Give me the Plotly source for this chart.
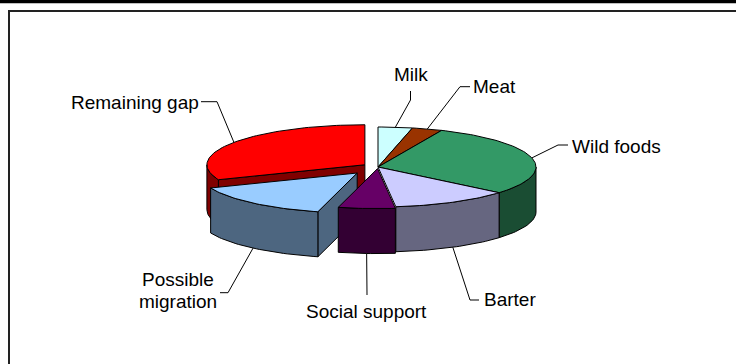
import numpy as np
import plotly.graph_objects as go

# ---------------- data ----------------
categories = ["Milk", "Meat", "Wild foods", "Barter", "Social support",
              "Possible migration", "Remaining gap"]
values = [3.5, 3.1, 29.5, 12.1, 5.8, 14.9, 31.1]
explode = [0.0, 0.0, 0.0, 0.0, 0.04, 0.2, 0.1]
top_colors = ["#CCFFFF", "#993300", "#339966", "#CCCCFF", "#660066",
              "#99CCFF", "#FF0000"]
side_colors = ["#668080", "#4D1A00", "#1A4D33", "#666680", "#330033",
               "#4D6680", "#800000"]

# ---------------- layout / geometry (pixel space) ----------------
W, H = 736, 364
CX, CY = 378, 167       # centre of the pie top face
RX, RY = 158, 40        # ellipse radii of the projected pie
DEPTH = 45              # pie thickness
FONT = dict(family="Liberation Sans, Arial, sans-serif", size=19, color="black")

# label placement: text position, anchor, elbow points (layout, not data)
label_layout = {
    "Milk": dict(tx=410.5, ty=74, xa="center", elbow=[(410.5, 100), (410.5, 91)]),
    "Meat": dict(tx=471, ty=86, xa="left", elbow=[(460, 86.7), (470, 86.7)]),
    "Wild foods": dict(tx=570, ty=146, xa="left", elbow=[(558, 145), (568, 145)]),
    "Barter": dict(tx=482, ty=299, xa="left", elbow=[(470, 300), (479, 300)]),
    "Social support": dict(tx=366.5, ty=311, xa="center", elbow=[(367, 295)]),
    "Possible migration": dict(tx=177.5, ty=None, xa="center",
                               elbow=[(228, 292.7), (220, 292.7)]),
    "Remaining gap": dict(tx=201, ty=102, xa="right", elbow=[(217, 101.7), (201, 101.7)]),
}

total = float(sum(values))
angles = np.cumsum([0.0] + [v / total * 360.0 for v in values])


def pt(theta, ox, oy, dz=0.0):
    t = np.radians(theta)
    return CX + ox + RX * np.sin(t), CY + oy - RY * np.cos(t) + dz


def arc(a, b, ox, oy, dz=0.0):
    n = max(3, int(abs(b - a) / 1.5) + 2)
    th = np.linspace(a, b, n)
    xs, ys = pt(th, ox, oy, dz)
    return list(xs), list(ys)


fig = go.Figure()


def poly(xs, ys, color):
    fig.add_trace(go.Scatter(
        x=xs + [xs[0]], y=ys + [ys[0]], mode="lines", fill="toself",
        fillcolor=color, line=dict(color="black", width=1),
        hoverinfo="skip", showlegend=False))


slices = []
for i, cat in enumerate(categories):
    a, b = angles[i], angles[i + 1]
    mid = (a + b) / 2
    e = explode[i]
    ox = e * RX * np.sin(np.radians(mid))
    oy = -e * RY * np.cos(np.radians(mid))
    slices.append((i, a, b, mid, ox, oy))

# painter's order: back slices first
order = sorted(slices, key=lambda s: -np.cos(np.radians(s[3])))
for i, a, b, mid, ox, oy in order:
    side = side_colors[i]
    # radial walls (visible only on exploded slices)
    if explode[i] > 0.05:
        for edge, normal in ((a, a - 90), (b, b + 90)):
            if np.cos(np.radians(normal)) < 0:
                c0 = pt(0, 0, 0)
                cx0, cy0 = CX + ox, CY + oy
                ex, ey = pt(edge, ox, oy)
                poly([cx0, ex, ex, cx0], [cy0, ey, ey + DEPTH, cy0 + DEPTH], side)
    # outer wall (front half only)
    lo, hi = max(a, 90.0), min(b, 270.0)
    if hi > lo:
        xt, yt = arc(lo, hi, ox, oy)
        xb, yb = arc(hi, lo, ox, oy, DEPTH)
        poly(xt + xb, yt + yb, side)
    # top face
    xs, ys = arc(a, b, ox, oy)
    poly([CX + ox] + xs, [CY + oy] + ys, top_colors[i])

# leader lines + labels
for i, a, b, mid, ox, oy in slices:
    cat = categories[i]
    L = label_layout[cat]
    if np.cos(np.radians(mid)) > 0:
        px, py = pt(mid, ox, oy)
    else:
        px, py = pt(mid, ox, oy, DEPTH)
    lx = [px] + [p[0] for p in L["elbow"]]
    ly = [py] + [p[1] for p in L["elbow"]]
    fig.add_trace(go.Scatter(x=lx, y=ly, mode="lines",
                             line=dict(color="black", width=1),
                             hoverinfo="skip", showlegend=False))
    if cat == "Possible migration":
        words = cat.split(" ")
        fig.add_annotation(x=L["tx"], y=279, text=words[0], showarrow=False,
                           xanchor="center", yanchor="middle", font=FONT)
        fig.add_annotation(x=L["tx"], y=301, text=words[1], showarrow=False,
                           xanchor="center", yanchor="middle", font=FONT)
    else:
        fig.add_annotation(x=L["tx"], y=L["ty"], text=cat, showarrow=False,
                           xanchor=L["xa"], yanchor="middle", font=FONT)

# frame decorations
fig.add_shape(type="rect", x0=0, x1=W, y0=0, y1=3.3, fillcolor="black",
              line=dict(width=0), layer="above")
fig.add_shape(type="path", path=f"M 9 {H+5} L 9 11 L {W+5} 11",
              line=dict(color="#222222", width=2), layer="above")

fig.update_layout(
    width=W, height=H, margin=dict(l=0, r=0, t=0, b=0),
    paper_bgcolor="white", plot_bgcolor="white",
    xaxis=dict(range=[0, W], visible=False, fixedrange=True),
    yaxis=dict(range=[H, 0], visible=False, fixedrange=True),
    showlegend=False,
)

fig.write_html("out.html")
